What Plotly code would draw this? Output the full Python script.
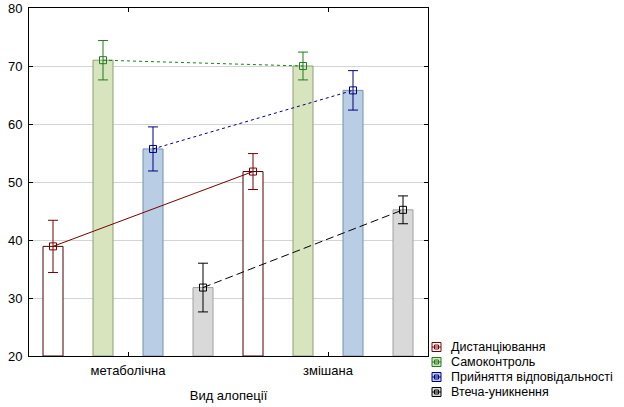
import plotly.graph_objects as go

# data
categories = ["метаболічна", "змішана"]
series = ["Дистанціювання", "Самоконтроль", "Прийняття відповідальності", "Втеча-уникнення"]
means = {
    "Дистанціювання": [38.9, 51.8],
    "Самоконтроль": [71.0, 70.0],
    "Прийняття відповідальності": [55.7, 65.8],
    "Втеча-уникнення": [31.8, 45.2],
}
errors = {
    "Дистанціювання": [4.5, 3.1],
    "Самоконтроль": [3.4, 2.4],
    "Прийняття відповідальності": [3.8, 3.4],
    "Втеча-уникнення": [4.2, 2.4],
}
y_ticks = [20, 30, 40, 50, 60, 70, 80]

# styles
offsets = [-0.375, -0.125, 0.125, 0.375]
line_colors = ["#7a0000", "#1e7d1e", "#000080", "#000000"]
bar_fills = ["#ffffff", "#d7e4bd", "#b9cde5", "#d9d9d9"]
bar_lines = ["#4a0000", "#8d9e76", "#7590b0", "#a0a0a0"]
dashes = ["solid", "dot", "dot", "8px,4px"]

W, H = 624, 407
L, R, T, B = 29, 196, 8, 51
pw, ph = W - L - R, H - T - B

fig = go.Figure()

for s, off, fill, edge in zip(series, offsets, bar_fills, bar_lines):
    xs = [i + off for i in range(len(categories))]
    fig.add_trace(go.Bar(
        x=xs, y=[v - 20 for v in means[s]], base=20, width=0.1,
        name=s, marker=dict(color=fill, line=dict(color=edge, width=1)),
        showlegend=False,
    ))

for s, off, lc, d in zip(series, offsets, line_colors, dashes):
    xs = [i + off for i in range(len(categories))]
    fig.add_trace(go.Scatter(
        x=xs, y=means[s], mode="lines+markers", name=s,
        line=dict(color=lc, width=1, dash=d),
        marker=dict(symbol="square-open", size=7, color=lc, line=dict(width=1)),
        error_y=dict(type="data", array=errors[s], color=lc, thickness=1, width=5),
        showlegend=False,
    ))

# hand-made legend below the right corner (Statistica style)
def px_x(p):
    return (p - L) / pw

def px_y(p):
    return (H - B - p) / ph

for k, (s, fill, lc) in enumerate(zip(series, bar_fills, line_colors)):
    yc = 347 + 15 * k
    fig.add_shape(type="rect", xref="paper", yref="paper",
                  x0=px_x(432), x1=px_x(441), y0=px_y(yc + 4.5), y1=px_y(yc - 4.5),
                  fillcolor=fill, line=dict(color=lc, width=1))
    fig.add_shape(type="line", xref="paper", yref="paper",
                  x0=px_x(432), x1=px_x(441), y0=px_y(yc), y1=px_y(yc),
                  line=dict(color=lc, width=1))
    fig.add_shape(type="rect", xref="paper", yref="paper",
                  x0=px_x(434.5), x1=px_x(438.5), y0=px_y(yc + 2), y1=px_y(yc - 2),
                  line=dict(color=lc, width=1))
    fig.add_annotation(text=s, xref="paper", yref="paper", x=px_x(449), y=px_y(yc),
                       xanchor="left", yanchor="middle", showarrow=False,
                       font=dict(size=12.5, color="#000000"))

fig.update_layout(
    width=W, height=H,
    margin=dict(l=L, r=R, t=T, b=B, autoexpand=False),
    paper_bgcolor="white", plot_bgcolor="white",
    font=dict(family="Liberation Sans, Arial, sans-serif", size=12, color="#000000"),
    barmode="overlay", showlegend=False,
)
fig.update_xaxes(
    range=[-0.495, 1.5], tickvals=list(range(len(categories))), ticktext=categories,
    showline=True, linecolor="black", linewidth=1, mirror="allticks",
    ticks="inside", ticklen=4, tickcolor="black", showgrid=False, zeroline=False,
    title=dict(text="Вид алопеції", font=dict(size=13), standoff=14),
    tickfont=dict(size=13), ticklabelstandoff=2, automargin=False,
)
fig.update_yaxes(
    range=[20, 80], tickvals=y_ticks,
    showline=True, linecolor="black", linewidth=1, mirror="allticks",
    ticks="inside", ticklen=4, tickcolor="black",
    showgrid=True, gridcolor="#d4d4d4", zeroline=False,
    tickfont=dict(size=13), ticklabelstandoff=3, automargin=False,
)

fig.write_html("out.html", config={"displayModeBar": False},
               post_script="document.body.style.margin='0';")
